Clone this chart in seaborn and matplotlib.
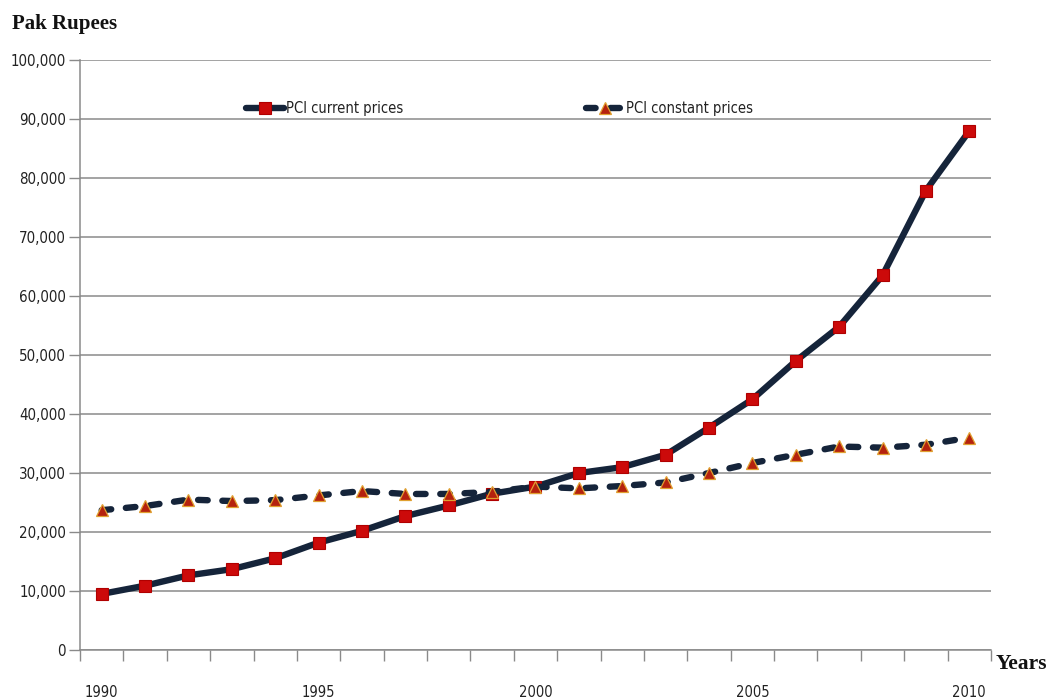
import matplotlib
matplotlib.use("Agg")
import matplotlib.pyplot as plt
import matplotlib.ticker as mticker
import numpy as np
import pandas as pd
import seaborn as sns

# Per-capita income, Pakistan, 1990-2010 (Pak Rupees)
years = list(range(1990, 2011))
pci_current = [9500, 10900, 12650, 13700, 15550, 18200, 20200, 22700, 24500, 26500,
               27700, 30000, 31000, 33100, 37700, 42500, 49000, 54800, 63500, 77900, 88000]
pci_constant = [23700, 24400, 25500, 25250, 25400, 26200, 26950, 26450, 26450, 26800,
                27700, 27400, 27800, 28400, 30000, 31700, 33100, 34500, 34300, 34800, 36000]
year_labels = [1990, 1995, 2000, 2005, 2010]
y_ticks = list(range(0, 100001, 10000))

df = pd.DataFrame({"year": years, "current": pci_current, "constant": pci_constant})

sns.set_theme(style="white")
plt.rcParams["font.family"] = ["DejaVu Sans"]
plt.rcParams["font.stretch"] = "condensed"

navy = "#15243a"
fig = plt.figure(figsize=(10.47, 6.98), dpi=100)
ax = fig.add_axes([0.0764, 0.0688, 0.8701, 0.845])

sns.lineplot(data=df, x="year", y="current", ax=ax, color=navy, linewidth=4.6,
             marker="s", markersize=8.5, markerfacecolor="#cc0a0a",
             markeredgecolor="#b00000", markeredgewidth=0.8,
             label="PCI current prices", solid_capstyle="round")
sns.lineplot(data=df, x="year", y="constant", ax=ax, color=navy, linewidth=4.6,
             linestyle=(0, (1.5, 2.3)), dash_capstyle="round",
             marker="^", markersize=8.5, markerfacecolor="#b5220e",
             markeredgecolor="#e0a030", markeredgewidth=0.9,
             label="PCI constant prices")

ax.set_xlim(1989.5, 2010.5)
ax.set_ylim(0, 100000)
ax.set_yticks(y_ticks)
ax.yaxis.set_major_formatter(mticker.FuncFormatter(lambda v, p: f"{int(v):,}"))
ax.set_xticks(year_labels)
ax.set_xticks(np.arange(1989.5, 2011, 1.0), minor=True)
ax.tick_params(axis="x", which="major", length=0, pad=25, labelsize=10.5, colors="#222222")
ax.tick_params(axis="x", which="minor", length=8, width=1, color="#8a8a8a", direction="out",
               bottom=True)
ax.tick_params(axis="y", which="major", length=8, width=1, color="#8a8a8a", direction="out",
               left=True, labelsize=10.8, colors="#222222", pad=2)

ax.grid(axis="y", color="#8a8a8a", linewidth=1.1)
ax.set_axisbelow(True)
for side in ("top", "right"):
    ax.spines[side].set_visible(False)
for side in ("left", "bottom"):
    ax.spines[side].set_color("#8a8a8a")
    ax.spines[side].set_linewidth(1.1)

ax.set_xlabel("")
ax.set_ylabel("")

serif = ["Liberation Serif", "DejaVu Serif"]
fig.text(0.011, 0.966, "Pak Rupees", family=serif, fontsize=15, fontweight="bold",
         stretch="normal", color="#111111", ha="left", va="center")
fig.text(0.951, 0.048, "Years", family=serif, fontsize=15.5, fontweight="bold",
         stretch="normal", color="#111111", ha="left", va="center")

leg = ax.legend(loc="center left", bbox_to_anchor=(0.176, 0.918), ncol=2, frameon=False,
                fontsize=10.5, handlelength=2.6, columnspacing=12.5, handletextpad=0.15,
                borderaxespad=0)
for t in leg.get_texts():
    t.set_color("#222222")

fig.savefig("out.png", dpi=100, facecolor="white")
